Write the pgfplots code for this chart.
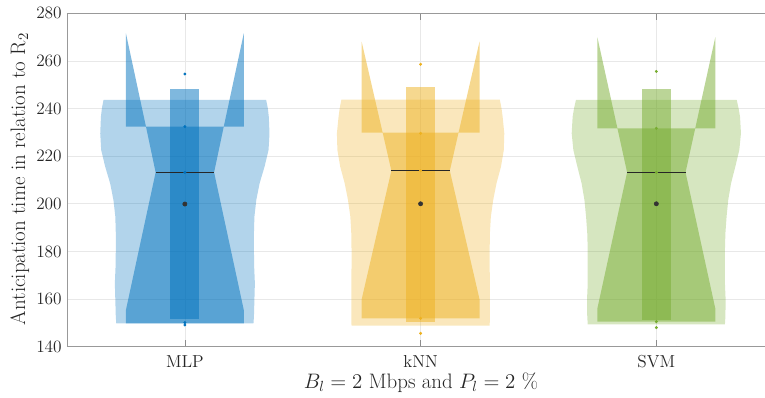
\RequirePackage{fix-cm}
\documentclass[border=0pt]{standalone}
\usepackage{pgfplots}
\pgfplotsset{compat=1.18}
\definecolor{cmlp}{RGB}{0,114,189}
\definecolor{cknn}{RGB}{237,177,32}
\definecolor{csvm}{RGB}{119,172,48}
\begin{document}
\begin{tikzpicture}
\begin{axis}[
  name=ax,
  scale only axis,
  width=523.5pt, height=250pt,
  xmin=0.5, xmax=3.461, ymin=140, ymax=280,
  axis x line*=box, axis y line*=left,
  axis line style={black!40},
  xtick={1,2,3}, xticklabels={MLP,kNN,SVM},
  ytick={140,160,...,280},
  tick align=inside,
  major tick length=5pt,
  xtick style={black!45},
  ytick style={draw=none},
  grid=major,
  major grid style={black!9, line width=0.5pt},
  tick label style={font=\fontsize{13}{15}\selectfont, text=black!85, inner sep=0pt},
  xticklabel shift=6.2pt,
  yticklabel shift=3.75pt,
  xlabel={$B_l = 2$ Mbps and $P_l = 2$ \%},
  ylabel={Anticipation time in relation to R$_2$},
  label style={font=\fontsize{15.7}{18}\selectfont, text=black!85, inner sep=0pt},
  x label style={at={(axis description cs:0.507,-0.138)}, anchor=south},
  y label style={at={(axis description cs:-0.0817,0.503)}, anchor=north, rotate=0},
]
% ---- violins (KDE outline) ----
\addplot[fill=cmlp, fill opacity=0.3, draw=none] coordinates {
(1.291,149.8)(1.293,152.6)(1.295,159.6)(1.297,166.6)(1.294,173.6)(1.293,180.6)(1.293,187.6)(1.295,194.6)(1.303,201.6)(1.317,208.6)(1.338,215.6)(1.355,222.6)(1.359,229.6)(1.356,236.6)(1.352,240.1)(1.345,243.6)
(0.655,243.6)(0.648,240.1)(0.644,236.6)(0.641,229.6)(0.645,222.6)(0.662,215.6)(0.683,208.6)(0.697,201.6)(0.705,194.6)(0.707,187.6)(0.707,180.6)(0.706,173.6)(0.703,166.6)(0.705,159.6)(0.707,152.6)(0.709,149.8)} -- cycle;
\addplot[fill=cknn, fill opacity=0.3, draw=none] coordinates {
(2.293,148.8)(2.294,152.6)(2.294,159.6)(2.294,166.6)(2.293,173.6)(2.293,180.6)(2.294,187.6)(2.298,194.6)(2.308,201.6)(2.322,208.6)(2.341,215.6)(2.353,222.6)(2.355,229.6)(2.348,236.6)(2.343,240.2)(2.336,243.8)
(1.664,243.8)(1.657,240.2)(1.652,236.6)(1.645,229.6)(1.647,222.6)(1.659,215.6)(1.678,208.6)(1.692,201.6)(1.702,194.6)(1.706,187.6)(1.707,180.6)(1.707,173.6)(1.706,166.6)(1.706,159.6)(1.706,152.6)(1.707,148.8)} -- cycle;
\addplot[fill=csvm, fill opacity=0.3, draw=none] coordinates {
(3.291,149.4)(3.293,152.6)(3.294,159.6)(3.291,166.6)(3.291,173.6)(3.291,180.6)(3.293,187.6)(3.298,194.6)(3.305,201.6)(3.317,208.6)(3.335,215.6)(3.352,222.6)(3.359,229.6)(3.355,236.6)(3.349,240.1)(3.341,243.6)
(2.659,243.6)(2.651,240.1)(2.645,236.6)(2.641,229.6)(2.648,222.6)(2.665,215.6)(2.683,208.6)(2.695,201.6)(2.702,194.6)(2.707,187.6)(2.709,180.6)(2.709,173.6)(2.709,166.6)(2.706,159.6)(2.707,152.6)(2.709,149.4)} -- cycle;
% ---- notched boxes ----
\addplot[fill=cmlp, fill opacity=0.5, draw=none] coordinates {
(0.876,213.2)(0.75,155.4)(0.75,149.8)(1.25,149.8)(1.25,155.4)(1.124,213.2)(1.165,232.4)(1.25,271.6)(1.25,232.4)(1.165,232.4)(0.835,232.4)(0.75,232.4)(0.75,271.6)(0.835,232.4)} -- cycle;
\addplot[fill=cknn, fill opacity=0.5, draw=none] coordinates {
(1.876,213.9)(1.75,159.9)(1.75,151.9)(2.25,151.9)(2.25,159.9)(2.124,213.9)(2.161,229.9)(2.25,268.1)(2.25,229.9)(2.161,229.9)(1.839,229.9)(1.75,229.9)(1.75,268.1)(1.839,229.9)} -- cycle;
\addplot[fill=csvm, fill opacity=0.5, draw=none] coordinates {
(2.876,213.2)(2.75,156.1)(2.75,150.5)(3.25,150.5)(3.25,156.1)(3.124,213.2)(3.165,231.7)(3.25,269.9)(3.25,231.7)(3.165,231.7)(2.835,231.7)(2.75,231.7)(2.75,269.9)(2.835,231.7)} -- cycle;
% ---- central bars ----
\addplot[fill=cmlp, fill opacity=0.5, draw=none] coordinates {(0.938,151.5)(1.062,151.5)(1.062,248.1)(0.938,248.1)} -- cycle;
\addplot[fill=cknn, fill opacity=0.5, draw=none] coordinates {(1.937,150.5)(2.063,150.5)(2.063,249.2)(1.937,249.2)} -- cycle;
\addplot[fill=csvm, fill opacity=0.5, draw=none] coordinates {(2.938,151.2)(3.062,151.2)(3.062,248.2)(2.938,248.2)} -- cycle;
% ---- medians ----
\addplot[black!85, line width=0.7pt] coordinates {(0.876,213.2)(1.124,213.2)};
\addplot[black!85, line width=0.7pt] coordinates {(1.876,213.9)(2.124,213.9)};
\addplot[black!85, line width=0.7pt] coordinates {(2.876,213.2)(3.124,213.2)};
% ---- data points ----
\addplot[only marks, mark=*, mark size=0.9pt, cmlp] coordinates {(1,254.5)(1,232.4)(1,213.2)(1,199.9)(1,150.1)(1,149.1)};
\addplot[only marks, mark=*, mark size=0.9pt, cknn] coordinates {(2,258.6)(2,229.6)(2,213.9)(2,200)(2,151.9)(2,145.6)};
\addplot[only marks, mark=*, mark size=0.9pt, csvm] coordinates {(3,255.6)(3,231.7)(3,213.2)(3,200)(3,150.5)(3,148.0)};
% ---- means ----
\addplot[only marks, mark=*, mark size=1.6pt, black!80] coordinates {(1,199.9)(2,200)(3,200)};
\end{axis}
\pgfresetboundingbox
\path[use as bounding box] ([shift={(-50.25pt,-38.5pt)}]ax.south west) rectangle ([shift={(0pt,10pt)}]ax.north east);
\end{tikzpicture}
\end{document}
